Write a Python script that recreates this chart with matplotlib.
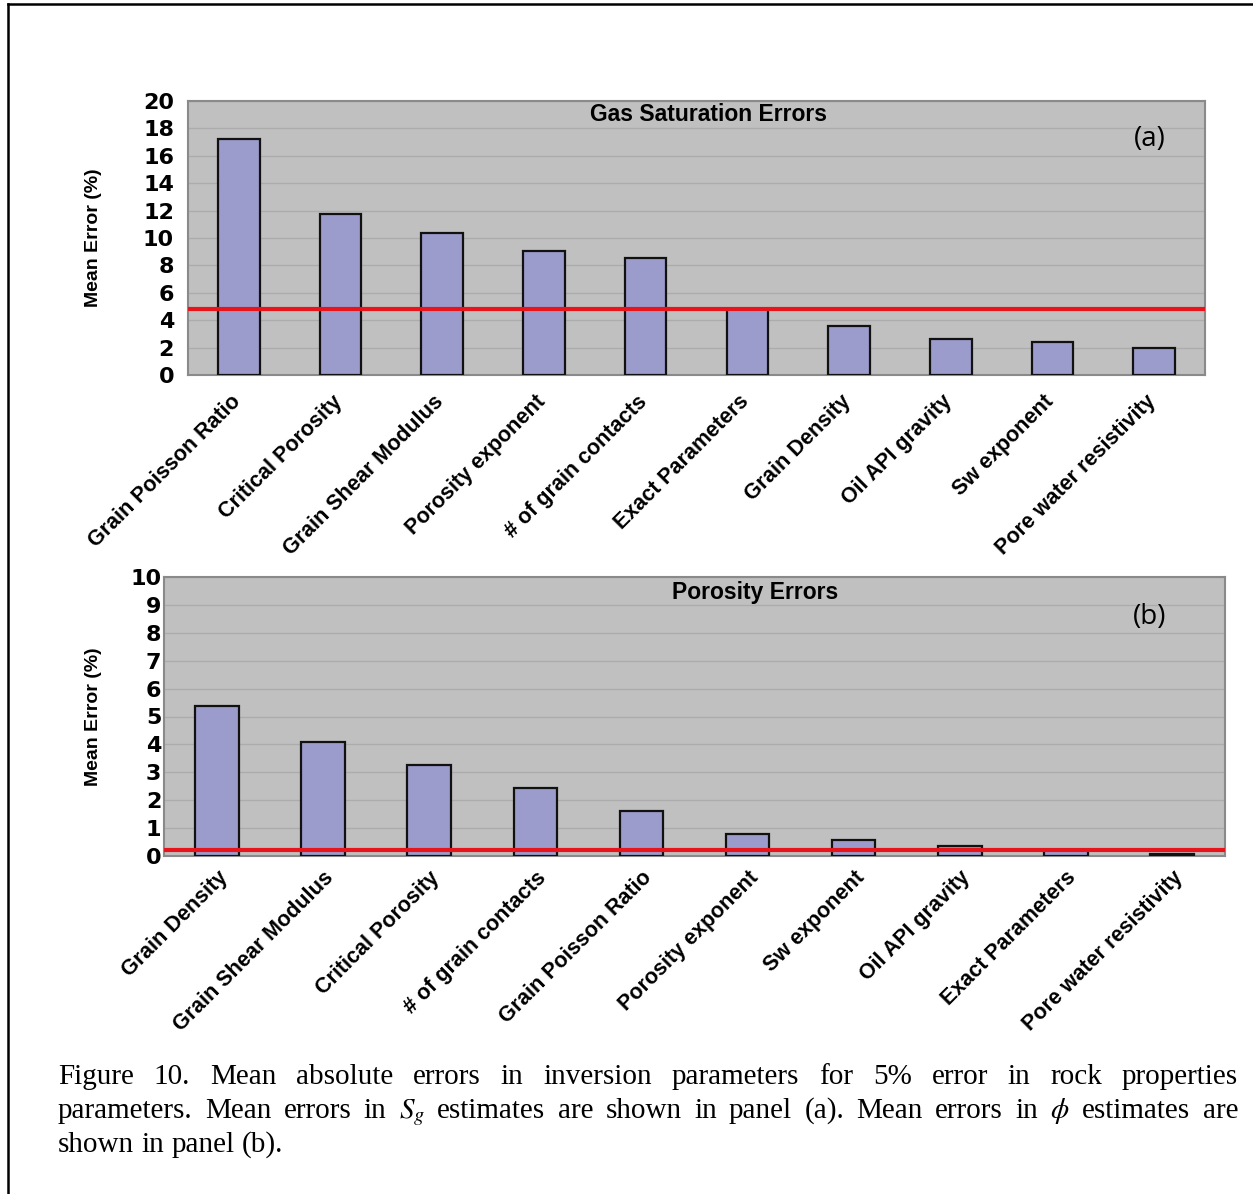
import matplotlib
matplotlib.use("Agg")
import matplotlib.pyplot as plt
from matplotlib.lines import Line2D
from matplotlib.transforms import ScaledTranslation

W, H = 1253, 1194
plt.rcParams["mathtext.fontset"] = "stix"

# ---------------- data ----------------
cats_a = ["Grain Poisson Ratio", "Critical Porosity", "Grain Shear Modulus",
          "Porosity exponent", "# of grain contacts", "Exact Parameters",
          "Grain Density", "Oil API gravity", "Sw exponent", "Pore water resistivity"]
vals_a = [17.25, 11.75, 10.35, 9.05, 8.55, 4.8, 3.6, 2.65, 2.4, 2.0]
ref_a = 4.8
yticks_a = [0, 2, 4, 6, 8, 10, 12, 14, 16, 18, 20]

cats_b = ["Grain Density", "Grain Shear Modulus", "Critical Porosity",
          "# of grain contacts", "Grain Poisson Ratio", "Porosity exponent",
          "Sw exponent", "Oil API gravity", "Exact Parameters", "Pore water resistivity"]
vals_b = [5.37, 4.09, 3.26, 2.45, 1.62, 0.78, 0.57, 0.36, 0.2, 0.08]
ref_b = 0.23
yticks_b = [0, 1, 2, 3, 4, 5, 6, 7, 8, 9, 10]

caption_lines = [
    "Figure 10. Mean absolute errors in inversion parameters for 5% error in rock properties",
    r"parameters. Mean errors in $S_g$ estimates are shown in panel (a). Mean errors in $\phi$ estimates are",
    "shown in panel (b).",
]

BAR = "#9c9ccc"
BG = "#c0c0c0"
RED = "#e8141c"

fig = plt.figure(figsize=(W / 100, H / 100), dpi=100)


def px_axes(l, t, r, b):
    return fig.add_axes([l / W, 1 - b / H, (r - l) / W, (b - t) / H])


def panel(ax, cats, vals, ref, yticks, title, tag, title_xy, tag_xy, ypad, ylab_x, shift):
    x = list(range(len(cats)))
    ax.set_facecolor(BG)
    ax.bar(x, vals, width=0.41, color=BAR, edgecolor="#111111", linewidth=1.6, zorder=3)
    ax.axhline(ref, color=RED, linewidth=3.0, zorder=5)
    ax.set_xlim(-0.5, len(cats) - 0.5)
    ax.set_ylim(yticks[0], yticks[-1])
    ax.set_yticks(yticks)
    ax.set_yticklabels([str(v) for v in yticks], fontfamily="DejaVu Sans",
                       fontweight="bold", fontsize=16)
    ax.set_xticks(x)
    ax.set_xticklabels(cats, rotation=45, ha="right", rotation_mode="anchor",
                       fontfamily="Liberation Sans", fontweight="bold", fontsize=15.5)
    ax.tick_params(axis="y", length=0, pad=ypad)
    ax.tick_params(axis="x", length=0, pad=8)
    off = ScaledTranslation(shift[0] / 100, shift[1] / 100, fig.dpi_scale_trans)
    for lab in ax.get_xticklabels():
        lab.set_transform(lab.get_transform() + off)
    ax.yaxis.grid(True, color="#acacac", linewidth=1.0, zorder=0)
    ax.set_axisbelow(True)
    for s in ax.spines.values():
        s.set_color("#8a8a8a")
        s.set_linewidth(1.5)
    ax.set_ylabel("Mean Error (%)", fontfamily="Liberation Sans", fontweight="bold",
                  fontsize=14)
    ax.yaxis.set_label_coords(ylab_x, 0.5)
    ax.text(title_xy[0], title_xy[1], title, transform=ax.transAxes, ha="center",
            va="center", fontfamily="Liberation Sans", fontweight="bold", fontsize=16.5)
    ax.text(tag_xy[0], tag_xy[1], tag, transform=ax.transAxes, ha="center",
            va="center", fontfamily="Open Sans", fontsize=20)


ax_a = px_axes(188, 101, 1205, 375)
panel(ax_a, cats_a, vals_a, ref_a, yticks_a, "Gas Saturation Errors", "(a)",
      (0.512, 0.949), (0.946, 0.861), 10, -0.085, (-9, -5))

ax_b = px_axes(164, 577, 1225, 856)
panel(ax_b, cats_b, vals_b, ref_b, yticks_b, "Porosity Errors", "(b)",
      (0.557, 0.943), (0.929, 0.857), 2, -0.058, (0, 0))

# frame lines (top and left) of the figure box
fig.add_artist(Line2D([8 / W, 1.0], [1 - 4 / H, 1 - 4 / H], color="black", linewidth=1.8,
                      transform=fig.transFigure))
fig.add_artist(Line2D([8 / W, 8 / W], [1 - 4 / H, 0.0], color="black", linewidth=1.8,
                      transform=fig.transFigure))

# ---------------- justified caption ----------------
renderer = fig.canvas.get_renderer()
CAP_FS = 21
x0, x1 = 58, 1238
baselines = [1084, 1118, 1152]
for i, (line, yb) in enumerate(zip(caption_lines, baselines)):
    words = line.split(" ")
    texts = [fig.text(0, 0, w, fontfamily="Liberation Serif", fontsize=CAP_FS,
                      va="baseline", ha="left") for w in words]
    widths = [t.get_window_extent(renderer).width for t in texts]
    if i < len(caption_lines) - 1:
        gap = (x1 - x0 - sum(widths)) / (len(words) - 1)
    else:
        gap = 0.25 * CAP_FS * 100 / 72
    xp = x0
    for t, w in zip(texts, widths):
        t.set_position((xp / W, 1 - yb / H))
        xp += w + gap

fig.savefig("out.png", dpi=100)
